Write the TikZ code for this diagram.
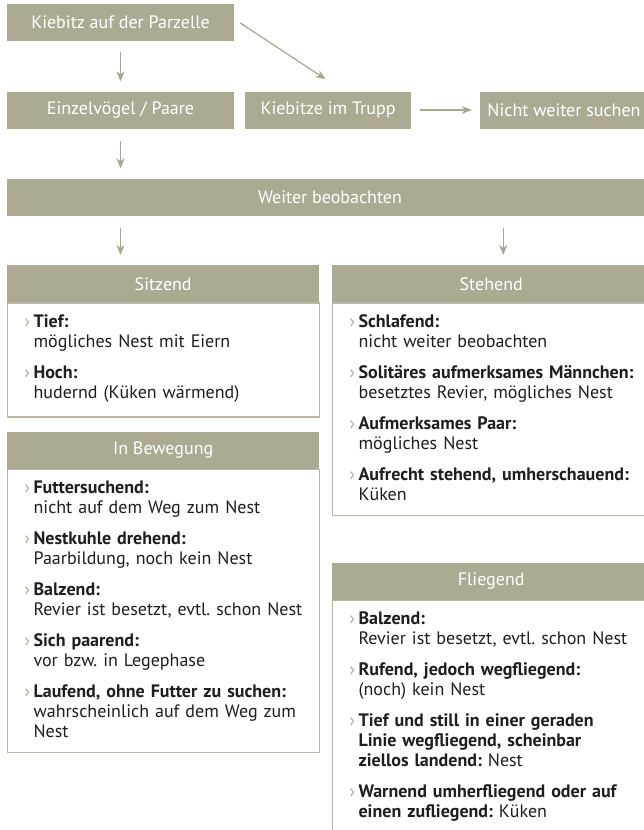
\documentclass[tikz,border=0pt]{standalone}
\usepackage{fontspec}
\setmainfont{PT Sans}
\usepackage{xcolor}
\usetikzlibrary{arrows.meta,positioning}

\definecolor{khead}{HTML}{ADAA94}
\definecolor{kline}{HTML}{B9B6A3}
\definecolor{karrow}{HTML}{A8A590}
\definecolor{ktext}{HTML}{1E1E1E}

\frenchspacing
\newcommand{\nl}{\hfil\break}
\newcommand{\kitem}[1]{\par\noindent\leftskip=9pt\hangindent=9pt\hangafter=1%
  \makebox[9pt][l]{\textcolor{khead}{›}}#1\par}
\newcommand{\kgap}{\vspace{11pt}}
\newcommand{\kend}{\par\vspace{11pt}}

\begin{document}
\begin{tikzpicture}[x=1pt, y=-1pt,
  tag/.style={rectangle, fill=khead, text=white, minimum height=37pt,
              inner sep=0pt, font=\fontsize{18}{20}\selectfont},
  head/.style={tag, anchor=north west},
  body/.style={rectangle, draw=kline, line width=1.2pt, fill=white,
               anchor=north west, text width=#1, align=left,
               inner xsep=8pt, inner ysep=4pt, text=ktext,
               font=\fontsize{18}{20}\selectfont},
  flow/.style={-{Stealth[length=10pt, width=8pt, inset=3pt]},
               draw=karrow, line width=1.2pt},
]
  \useasboundingbox (0,0) rectangle (644,830);
  \clip (0,0) rectangle (644,830);
  \fill[white] (0,0) rectangle (644,830);

  % Row 1-3: first decision
  \node[tag, minimum width=227pt] (parzelle) at (120.5,22.5) {Kiebitz auf der Parzelle};
  \node[tag, minimum width=227pt] (einzel) at (120.5,110) {Einzelvögel / Paare};
  \node[tag, minimum width=166pt] (trupp) at (328,110) {Kiebitze im Trupp};
  \node[tag, minimum width=168pt] (nicht) at (564,110) {Nicht weiter suchen};
  \node[tag, minimum width=646pt] (weiter) at (330,197) {Weiter beobachten};

  % Left column
  \node[head, minimum width=312pt] (sitz) at (7,265) {Sitzend};
  \node[body=296pt] (sitzbody) at (sitz.south west) {%
    \kitem{\textbf{Tief:}\nl mögliches Nest mit Eiern}\kgap
    \kitem{\textbf{Hoch:}\nl hudernd (Küken wärmend)}\kend};
  \node[head, minimum width=312pt] (beweg) at ([yshift=-14pt]sitzbody.south west) {In Bewegung};
  \node[body=296pt] (bewegbody) at (beweg.south west) {%
    \kitem{\textbf{Futtersuchend:}\nl nicht auf dem Weg zum Nest}\kgap
    \kitem{\textbf{Nestkuhle drehend:}\nl Paarbildung, noch kein Nest}\kgap
    \kitem{\textbf{Balzend:}\nl Revier ist besetzt, evtl. schon Nest}\kgap
    \kitem{\textbf{Sich paarend:}\nl vor bzw. in Legephase}\kgap
    \kitem{\textbf{Laufend, ohne Futter zu suchen:}\nl wahrscheinlich auf dem Weg zum\nl Nest}\kend};

  % Right column
  \node[head, minimum width=318pt] (steh) at (332,265) {Stehend};
  \node[body=302pt] (stehbody) at (steh.south west) {%
    \kitem{\textbf{Schlafend:}\nl nicht weiter beobachten}\kgap
    \kitem{\textbf{Solitäres aufmerksames Männchen:}\nl besetztes Revier, mögliches Nest}\kgap
    \kitem{\textbf{Aufmerksames Paar:}\nl mögliches Nest}\kgap
    \kitem{\textbf{Aufrecht stehend, umherschauend:}\nl Küken}\kend};
  \node[head, minimum width=318pt] (flieg) at ([yshift=-47pt]stehbody.south west) {Fliegend};
  \node[body=302pt] (fliegbody) at (flieg.south west) {%
    \kitem{\textbf{Balzend:}\nl Revier ist besetzt, evtl. schon Nest}\kgap
    \kitem{\textbf{Rufend, jedoch wegfliegend:}\nl (noch) kein Nest}\kgap
    \kitem{\textbf{Tief und still in einer geraden}\nl
           \textbf{Linie wegfliegend, scheinbar}\nl
           \textbf{ziellos landend:} Nest}\kgap
    \kitem{\textbf{Warnend umherfliegend oder auf}\nl
           \textbf{einen zufliegend:} Küken}\vspace*{30pt}};

  % Flow arrows
  \coordinate (stehin) at ([xshift=12pt]steh.north);
  \draw[flow, shorten <=11pt, shorten >=10pt] (parzelle) -- (einzel);
  \draw[flow, shorten <=7pt, shorten >=22pt] ([yshift=3.5pt]parzelle.east) -- ([xshift=16pt]trupp.north);
  \draw[flow, shorten <=9pt, shorten >=8pt] (trupp) -- (nicht);
  \draw[flow, shorten <=12pt, shorten >=10pt] (einzel) -- (einzel.south |- weiter.north);
  \draw[flow, shorten <=12.5pt, shorten >=10pt] (weiter.south -| einzel.south) -- (sitz.north -| einzel.south);
  \draw[flow, shorten <=12.5pt, shorten >=10pt] (weiter.south -| stehin) -- (stehin);
\end{tikzpicture}
\end{document}
